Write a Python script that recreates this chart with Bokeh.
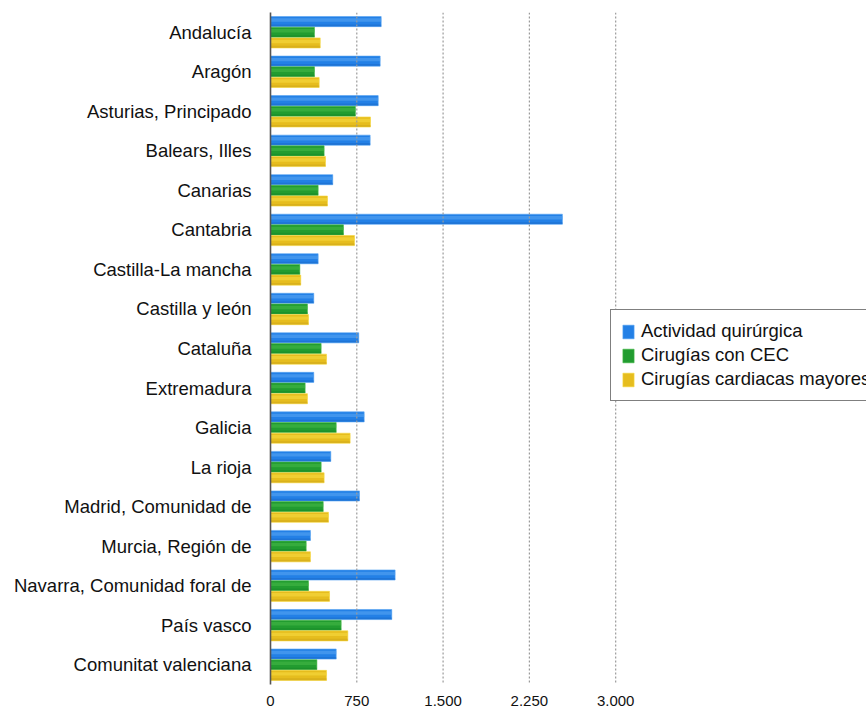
from bokeh.plotting import figure
from bokeh.models import (FactorRange, Range1d, FixedTicker, Legend, LegendItem, Span)
from bokeh.transform import dodge
from bokeh.embed import file_html
from bokeh.resources import INLINE
from bokeh.models import ColumnDataSource

# Regions, top to bottom
regions = [
    "Andalucía", "Aragón", "Asturias, Principado", "Balears, Illes", "Canarias",
    "Cantabria", "Castilla-La mancha", "Castilla y león", "Cataluña", "Extremadura",
    "Galicia", "La rioja", "Madrid, Comunidad de", "Murcia, Región de",
    "Navarra, Comunidad foral de", "País vasco", "Comunitat valenciana",
]
actividad = [962, 953, 936, 866, 541, 2537, 414, 376, 767, 376, 814, 524, 773, 347, 1083, 1054, 571]
cec = [382, 382, 738, 466, 414, 634, 255, 321, 440, 301, 571, 440, 458, 310, 330, 614, 403]
mayores = [432, 423, 869, 478, 495, 730, 263, 330, 487, 321, 692, 466, 504, 347, 513, 672, 487]

series_names = ["Actividad quirúrgica", "Cirugías con CEC", "Cirugías cardiacas mayores"]
x_ticks = [0, 750, 1500, 2250, 3000]
x_tick_labels = ["0", "750", "1.500", "2.250", "3.000"]

src = ColumnDataSource(dict(region=regions, a=actividad, c=cec, m=mayores))

p = figure(
    width=866, height=712,
    y_range=FactorRange(factors=list(reversed(regions)), range_padding=0),
    x_range=Range1d(0, 5180),
    output_backend="svg", toolbar_location=None,
    min_border_left=270, min_border_right=0, min_border_top=12, min_border_bottom=28,
)
p.outline_line_color = None
p.background_fill_color = "white"
p.border_fill_color = "white"
p.xgrid.grid_line_color = None
p.ygrid.grid_line_color = None

# dotted vertical guides
for t in x_ticks[1:]:
    p.add_layout(Span(location=t, dimension="height", line_color="#9a9a9a",
                      line_dash="2 2", line_width=1.2))

h = 0.255
step = 0.27
styles = [
    ("a", step, "#2380e6", "#55a3f2", "#1866c4"),
    ("c", 0.0, "#229c30", "#45b846", "#178428"),
    ("m", -step, "#e6bd1e", "#f6d840", "#c9a11a"),
]
base_renderers = []
for col, off, main, light, dark in styles:
    r = p.hbar(y=dodge("region", off, range=p.y_range), right=col, left=0, height=h,
               source=src, fill_color=main, line_color=light, line_width=0.6)
    base_renderers.append(r)
    # soft glossy highlight on the upper half and a darker lower edge
    p.hbar(y=dodge("region", off + h * 0.15, range=p.y_range), right=col, left=0,
           height=h * 0.34, source=src, fill_color=light, line_color=None, fill_alpha=0.6)
    p.hbar(y=dodge("region", off - h * 0.38, range=p.y_range), right=col, left=0,
           height=h * 0.18, source=src, fill_color=dark, line_color=None, fill_alpha=0.45)

# axes
yax = p.yaxis[0]
yax.axis_line_color = "#555555"
yax.axis_line_width = 1.6
yax.major_tick_line_color = None
yax.minor_tick_line_color = None
yax.major_label_standoff = 13
yax.major_label_text_font = "Liberation Sans"
yax.major_label_text_font_size = "18.5px"
yax.major_label_text_color = "#111111"

xax = p.xaxis[0]
xax.ticker = FixedTicker(ticks=x_ticks)
xax.major_label_overrides = {t: s for t, s in zip(x_ticks, x_tick_labels)}
xax.axis_line_color = None
xax.major_tick_line_color = None
xax.minor_tick_line_color = None
xax.major_label_standoff = 5
xax.major_label_text_font = "Liberation Sans"
xax.major_label_text_font_size = "15px"
xax.major_label_text_color = "#111111"

legend = Legend(
    items=[LegendItem(label=n, renderers=[r]) for n, r in zip(series_names, base_renderers)],
    location=(340, 283),
    orientation="vertical",
    border_line_color="black", border_line_width=1.2,
    background_fill_color="white", background_fill_alpha=1,
    label_text_font="Liberation Sans", label_text_font_size="18.5px",
    label_text_color="#111111",
    glyph_width=14, glyph_height=17, label_height=20, spacing=2,
    padding=10, margin=0, label_standoff=6,
)
p.add_layout(legend)

open("out.html", "w").write(file_html(p, INLINE))
